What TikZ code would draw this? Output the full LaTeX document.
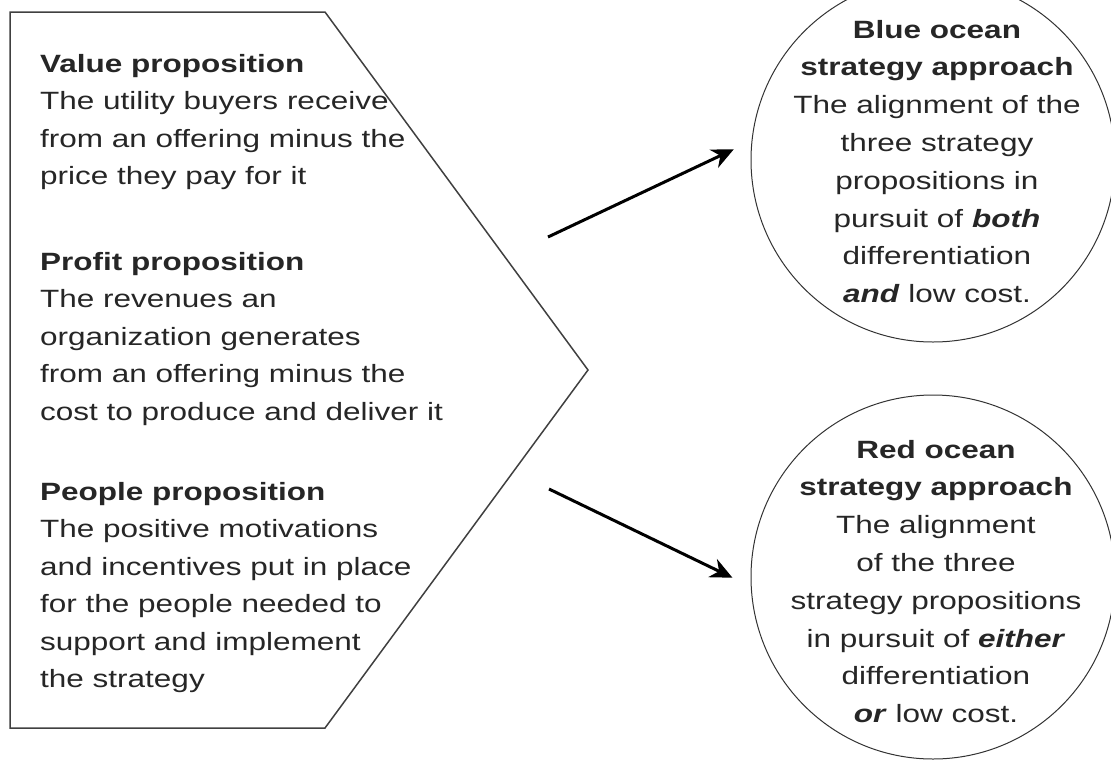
\documentclass[tikz,border=0pt]{standalone}
\usepackage{fontspec}
\setmainfont{Liberation Sans}[FakeStretch=1.26]
\usetikzlibrary{arrows.meta}
\begin{document}
\begin{tikzpicture}[x=1pt,y=-1pt]
\tikzstyle{every node}+=[inner sep=0pt]
\tikzstyle{prop}=[anchor=base west, align=left, text=black!85, font=\fontsize{25}{37.5}\selectfont]
\tikzstyle{ocean}=[circle, draw=black!80, line width=1pt, minimum size=364pt]
\tikzstyle{oceantext}=[anchor=base, align=center, text=black!85, font=\fontsize{25}{37.8}\selectfont]
\tikzstyle{arrowline}=[black, line width=3pt, -{Stealth[length=22pt,width=20pt]}]
\useasboundingbox (0,0) rectangle (1111,761);
% pentagon
\coordinate (tl) at (10,12);
\coordinate (tr) at (325,12);
\coordinate (tip) at (588,370);
\coordinate (br) at (325,728);
\coordinate (bl) at (10,728);
\draw [black!75, line width=1.5pt] (tl) -- (tr) -- (tip) -- (br) -- (bl) -- cycle;
% text blocks sit on their last line
\node [prop] (value) at (40,184.5) {\textbf{Value proposition}\\The utility buyers receive\\from an offering minus the\\price they pay for it};
\node [prop] (profit) at (40,420) {\textbf{Profit proposition}\\The revenues an\\organization generates\\from an offering minus the\\cost to produce and deliver it};
\node [prop] (people) at (40,687.5) {\textbf{People proposition}\\The positive motivations\\and incentives put in place\\for the people needed to\\support and implement\\the strategy};
% circles
\node [ocean] (blue) at (933,160) {};
\node [oceantext] (bluetext) at (937,302.6) {\textbf{Blue ocean}\\\textbf{strategy approach}\\The alignment of the\\three strategy\\propositions in\\pursuit of \textbf{\textit{both}}\\differentiation\\\textbf{\textit{and}} low cost.};
\node [ocean] (red) at (933,577) {};
\node [oceantext] (redtext) at (936,722.6) {\textbf{Red ocean}\\\textbf{strategy approach}\\The alignment\\of the three\\strategy propositions\\in pursuit of \textbf{\textit{either}}\\differentiation\\\textbf{\textit{or}} low cost.};
% arrows
\coordinate (bluetail) at (548,237);
\coordinate (redtail) at (549,489);
\draw [arrowline, shorten >=19.6pt] (bluetail) -- (blue.174.6);
\draw [arrowline, shorten >=20.3pt] (redtail) -- (red.183.1);
\end{tikzpicture}
\end{document}
